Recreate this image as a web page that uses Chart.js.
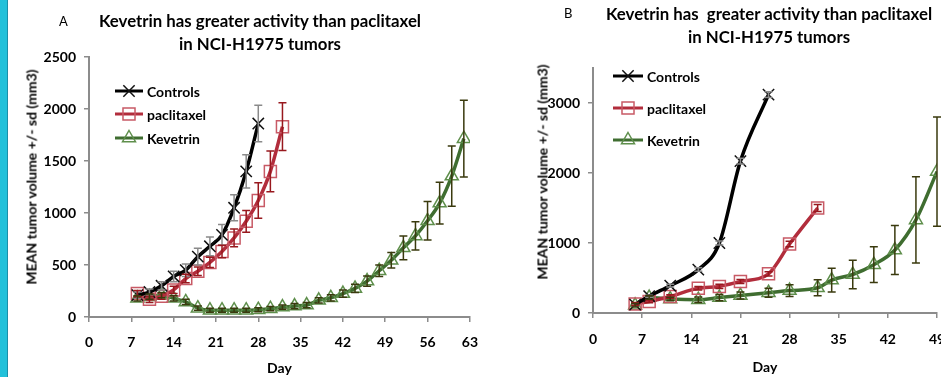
<!DOCTYPE html>
<html>
<head>
<meta charset="utf-8">
<script src="https://cdn.jsdelivr.net/npm/chart.js@4.4.1/dist/chart.umd.min.js"></script>
<style>
  html, body { margin: 0; padding: 0; background: #fff; overflow: hidden; width: 941px; height: 377px; }
  body { position: relative; font-family: Lato, 'Open Sans', sans-serif; color: #000; }
  .edge { position: absolute; left: 0; top: 0; width: 7px; height: 377px; background: #22c1da; border-right: 1px solid #1b8fa8; }
  canvas { position: absolute; top: 0; }
  .tag { position: absolute; font-size: 13px; line-height: 16px; }
  .title { position: absolute; font-weight: bold; font-size: 16.8px; line-height: 22.5px; text-align: center; white-space: pre; transform: translateX(-50%); }
  .ylab { position: absolute; font-weight: bold; font-size: 14px; white-space: nowrap; transform: translate(-50%, -50%) rotate(-90deg); }
</style>
</head>
<body>
<div class="edge"></div>
<canvas id="chartA" width="490" height="377" style="left:0"></canvas>
<canvas id="chartB" width="470" height="377" style="left:490px"></canvas>

<div class="tag" style="left:59px; top:13px">A</div>
<div class="title" style="left:260px; top:10px">Kevetrin has greater activity than paclitaxel
in NCI-H1975 tumors</div>
<div class="ylab" style="left:31px; top:177px">MEAN tumor volume +/- sd (mm3)</div>

<div class="tag" style="left:564px; top:5px">B</div>
<div class="title" style="left:769px; top:3px">Kevetrin has  greater activity than paclitaxel
in NCI-H1975 tumors</div>
<div class="ylab" style="left:542px; top:172px">MEAN tumor volume +/- sd (mm3)</div>

<script>
// ---- panel A data (days after implant) ----
const daysCtrlA = [8, 10, 12, 14, 16, 18, 20, 22, 24, 26, 28];
const ctrlA = [210, 240, 300, 390, 450, 580, 680, 790, 1050, 1400, 1860];
const ctrlA_sd = [30, 30, 40, 50, 60, 80, 90, 100, 125, 160, 175];

const daysPacA = [8, 10, 12, 14, 16, 18, 20, 22, 24, 26, 28, 30, 32];
const pacA = [225, 170, 200, 260, 370, 440, 525, 630, 760, 920, 1120, 1400, 1830];
const pacA_sd = [30, 30, 30, 35, 40, 40, 50, 60, 85, 105, 170, 195, 230];

const daysKevA = [8, 10, 12, 14, 16, 18, 20, 22, 24, 26, 28, 30, 32, 34,
  36, 38, 40, 42, 44, 46, 48, 50, 52, 54, 56, 58, 60, 62];
const kevA = [180, 195, 210, 180, 145, 85, 65, 65, 65, 65, 70, 80, 95, 105,
  115, 160, 185, 225, 275, 345, 445, 545, 665, 780, 925, 1095, 1355, 1715];
const kevA_sd = [25, 25, 25, 25, 25, 20, 20, 20, 20, 20, 20, 20, 20, 25,
  25, 25, 30, 35, 40, 50, 55, 75, 115, 135, 185, 200, 290, 370];

const xTicksA = [0, 7, 14, 21, 28, 35, 42, 49, 56, 63];
const yTicksA = [0, 500, 1000, 1500, 2000, 2500];

// ---- panel B data ----
const daysCtrlB = [6, 8, 11, 15, 18, 21, 25];
const ctrlB = [120, 240, 390, 620, 1000, 2170, 3120];
const ctrlB_sd = [15, 15, 20, 25, 30, 40, 40];

const daysPacB = [6, 8, 11, 15, 18, 21, 25, 28, 32];
const pacB = [130, 165, 235, 355, 380, 450, 560, 985, 1500];
const pacB_sd = [20, 20, 25, 25, 30, 30, 30, 40, 50];

const daysKevB = [6, 8, 11, 15, 18, 21, 25, 28, 32, 34, 37, 40, 43, 46, 49];
const kevB = [110, 220, 200, 190, 220, 250, 290, 320, 360, 470, 550, 690, 900, 1330, 2020];
const kevB_sd = [25, 25, 25, 40, 45, 50, 65, 85, 115, 170, 205, 255, 350, 615, 780];

const xTicksB = [0, 7, 14, 21, 28, 35, 42, 49];
const yTicksB = [0, 1000, 2000, 3000];

const labels = ['Controls', 'paclitaxel', 'Kevetrin'];

const FONT = 'Lato, "Open Sans", sans-serif';
const AXIS = '#8c8c8c';

const toPoints = (days, vals) => days.map((d, i) => ({ x: d, y: vals[i] }));

const marker = (ctx, style, r, x, y) => {
  ctx.beginPath();
  if (style === 'rect') {
    const s = r * Math.SQRT1_2;
    ctx.rect(x - s, y - s, 2 * s, 2 * s);
  } else if (style === 'triangle') {
    ctx.moveTo(x, y - r);
    ctx.lineTo(x + r * 0.866, y + r * 0.5);
    ctx.lineTo(x - r * 0.866, y + r * 0.5);
    ctx.closePath();
  } else {
    const s = r * Math.SQRT1_2;
    ctx.moveTo(x - s, y - s); ctx.lineTo(x + s, y + s);
    ctx.moveTo(x - s, y + s); ctx.lineTo(x + s, y - s);
  }
  ctx.stroke();
};

const errorBars = {
  id: 'errorBars',
  afterDatasetsDraw(chart) {
    const { ctx, scales: { x, y } } = chart;
    ctx.save();
    ctx.lineWidth = 1.5;
    chart.data.datasets.forEach((ds) => {
      ctx.strokeStyle = ds.errColor;
      ds.data.forEach((p, i) => {
        const px = x.getPixelForValue(p.x);
        const top = y.getPixelForValue(p.y + ds.sd[i]);
        const bot = y.getPixelForValue(p.y - ds.sd[i]);
        ctx.beginPath();
        ctx.moveTo(px, top); ctx.lineTo(px, bot);
        ctx.moveTo(px - 4, top); ctx.lineTo(px + 4, top);
        ctx.moveTo(px - 4, bot); ctx.lineTo(px + 4, bot);
        ctx.stroke();
      });
    });
    ctx.restore();
  },
};

// legend sits inside the plot, line with marker in the middle
const lineLegend = {
  id: 'lineLegend',
  afterDraw(chart, args, opts) {
    const { ctx } = chart;
    ctx.save();
    ctx.font = 'bold 14px ' + FONT;
    ctx.textBaseline = 'middle';
    chart.data.datasets.forEach((ds, i) => {
      const y = opts.rows[i];
      ctx.strokeStyle = ds.borderColor;
      ctx.lineWidth = 3;
      ctx.beginPath();
      ctx.moveTo(opts.x, y);
      ctx.lineTo(opts.x + opts.len, y);
      ctx.stroke();
      ctx.strokeStyle = ds.pointBorderColor;
      ctx.lineWidth = ds.pointBorderWidth;
      marker(ctx, ds.pointStyle, ds.pointRadius, opts.x + opts.len / 2, y);
      ctx.fillStyle = '#000';
      ctx.fillText(ds.label, opts.x + opts.len + 4, y + 1);
    });
    ctx.restore();
  },
};

const series = (days, vals, sd) => [
  {
    label: labels[0], data: toPoints(days[0], vals[0]), sd: sd[0],
    borderColor: '#000000', errColor: '#8a8a8a',
    pointStyle: 'crossRot', pointRadius: 8, pointBorderColor: '#111111',
  },
  {
    label: labels[1], data: toPoints(days[1], vals[1]), sd: sd[1],
    borderColor: '#b22d3c', errColor: '#98181e',
    pointStyle: 'rect', pointRadius: 8.5, pointBorderColor: '#c85a66',
  },
  {
    label: labels[2], data: toPoints(days[2], vals[2]), sd: sd[2],
    borderColor: '#3f6d30', errColor: '#3a3a0e',
    pointStyle: 'triangle', pointRadius: 7.5, pointBorderColor: '#5f8f4c',
  },
].map((d) => ({
  ...d,
  borderWidth: 3.5,
  cubicInterpolationMode: 'monotone',
  pointBorderWidth: 1.5,
  pointBackgroundColor: 'rgba(0,0,0,0)',
  pointHoverRadius: 0,
}));

const tickFont = { family: FONT, weight: 'bold', size: 14 };
const useTicks = (list) => (s) => { s.ticks = list.map((value) => ({ value })); };

const buildChart = (id, sets, p) => new Chart(document.getElementById(id), {
  type: 'line',
  data: { datasets: sets },
  plugins: [errorBars, lineLegend],
  options: {
    responsive: false,
    animation: false,
    layout: { padding: { left: 0, top: p.top, right: p.right, bottom: 0 } },
    plugins: {
      legend: { display: false },
      tooltip: { enabled: false },
      lineLegend: p.legend,
    },
    scales: {
      x: {
        type: 'linear', min: 0, max: p.xTicks[p.xTicks.length - 1],
        afterBuildTicks: useTicks(p.xTicks),
        afterFit: (s) => { s.height = p.xHeight; },
        ticks: { color: '#000', padding: p.xPad, font: tickFont, callback: (v) => String(v) },
        grid: { drawOnChartArea: false, tickLength: 5, color: AXIS, lineWidth: 1.5 },
        border: { color: AXIS, width: 2 },
        title: { display: true, text: 'Day', color: '#000', padding: { top: 0, bottom: p.dayPad }, font: tickFont },
      },
      y: {
        min: 0, max: p.yMax,
        afterBuildTicks: useTicks(p.yTicks),
        afterFit: (s) => { s.width = p.yWidth; },
        ticks: { color: '#000', padding: 8, font: tickFont, callback: (v) => String(v) },
        grid: { drawOnChartArea: false, tickLength: 5, color: AXIS, lineWidth: 1.5 },
        border: { color: AXIS, width: 2 },
      },
    },
  },
});

buildChart('chartA',
  series([daysCtrlA, daysPacA, daysKevA], [ctrlA, pacA, kevA], [ctrlA_sd, pacA_sd, kevA_sd]),
  { top: 57, right: 10, xTicks: xTicksA, yTicks: yTicksA, yMax: 2500, yWidth: 89, xHeight: 60, xPad: 12, dayPad: 0,
    legend: { x: 115, len: 28, rows: [91, 114, 138] } });

buildChart('chartB',
  series([daysCtrlB, daysPacB, daysKevB], [ctrlB, pacB, kevB], [ctrlB_sd, pacB_sd, kevB_sd]),
  { top: 68, right: 23, xTicks: xTicksB, yTicks: yTicksB, yMax: 3500, yWidth: 103, xHeight: 64, xPad: 13, dayPad: 1,
    legend: { x: 123, len: 30, rows: [76, 108, 140] } });
</script>
</body>
</html>
